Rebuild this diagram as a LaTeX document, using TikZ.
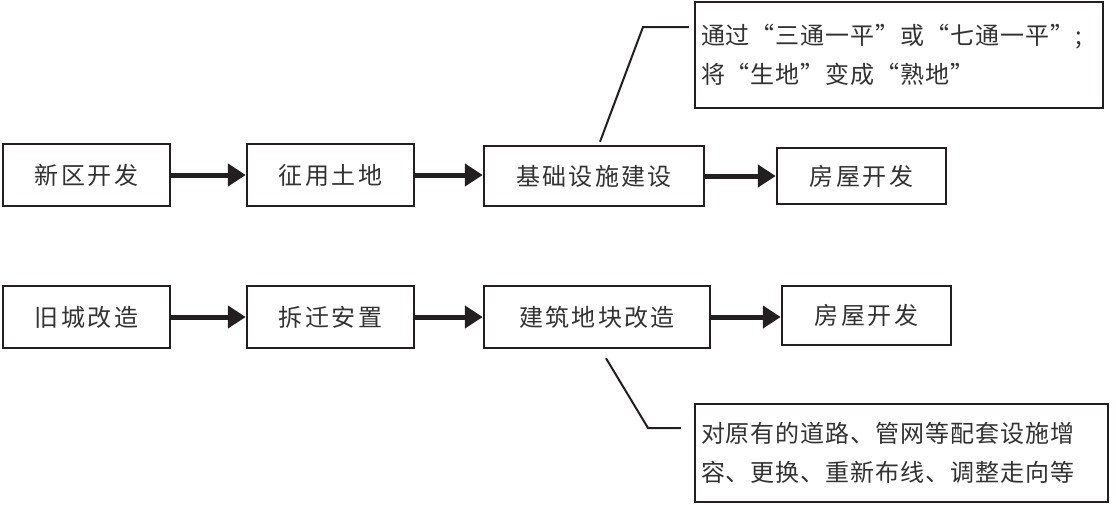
\documentclass[tikz,border=0pt]{standalone}
\usepackage{fontspec}
\usepackage{xcolor}
\usepackage{tikz}
\usetikzlibrary{arrows.meta}
\setmainfont{Noto Sans CJK SC}
\newfontfamily\cjkbox[LetterSpace=10]{Noto Sans CJK SC}
\newfontfamily\cjknote[LetterSpace=4]{Noto Sans CJK SC}
\definecolor{LineInk}{RGB}{35,31,32}
\definecolor{TextInk}{RGB}{50,50,50}

\tikzset{
  stepbox/.style={draw=LineInk,line width=2.5pt,inner sep=0pt,minimum height=62pt,
    font=\cjkbox\fontsize{24pt}{28pt}\selectfont,text=TextInk},
  notebox/.style={draw=LineInk,line width=2.5pt,inner xsep=6pt,inner ysep=0pt,align=left,
    font=\cjknote\fontsize{24pt}{39pt}\selectfont,text=TextInk},
  flow/.style={line width=5pt,draw=LineInk,-{Triangle[length=18pt,width=22pt]}},
  leader/.style={line width=2pt,draw=LineInk}
}

\begin{document}
\begin{tikzpicture}[x=1pt,y=-1pt]
    \useasboundingbox (0,0) rectangle (1116,504);

    % new district
    \node[stepbox,minimum width=167pt] (xinqu) at (86.5,175) {新区开发};
    \node[stepbox,minimum width=167pt] (zhengyong) at (330.5,175) {征用土地};
    \node[stepbox,minimum width=220pt,minimum height=60pt] (jichu) at (594,176) {基础设施建设};
    \node[stepbox,minimum width=169pt,minimum height=56pt] (fangwuA) at (861.5,176) {房屋开发};

    % old town
    \node[stepbox,minimum width=167pt] (jiucheng) at (86.5,317) {旧城改造};
    \node[stepbox,minimum width=167pt] (chaiqian) at (330.5,317) {拆迁安置};
    \node[stepbox,minimum width=226pt] (dikuai) at (597,317) {建筑地块改造};
    \node[stepbox,minimum width=169pt,minimum height=59pt] (fangwuB) at (866.5,315.5) {房屋开发};

    \draw[flow] (xinqu) -- (zhengyong);
    \draw[flow] (zhengyong) -- (jichu.west |- zhengyong);
    \draw[flow] (jichu) -- (fangwuA);
    \draw[flow] (jiucheng) -- (chaiqian);
    \draw[flow] (chaiqian) -- (dikuai);
    \draw[flow] (dikuai) -- (fangwuB.west |- dikuai);

    % notes
    \node[notebox,minimum width=408pt,minimum height=106pt,text width=396pt] (noteA) at (899,55)
      {通过“三通一平”或“七通一平”;\\将“生地”变成“熟地”};
    \node[notebox,minimum width=413pt,minimum height=98pt,text width=401pt] (noteB) at (901.5,453)
      {对原有的道路、管网等配套设施增\\容、更换、重新布线、调整走向等};

    \coordinate (bendA) at (643,27);
    \coordinate (bendB) at (648,428);
    \draw[leader] ([xshift=6pt,yshift=3pt]jichu.north) -- (bendA) -- ([xshift=-5pt]noteA.west |- bendA);
    \draw[leader] ([xshift=9pt,yshift=-9pt]dikuai.south) -- (bendB) -- ([xshift=-13pt]noteB.west |- bendB);
\end{tikzpicture}
\end{document}
